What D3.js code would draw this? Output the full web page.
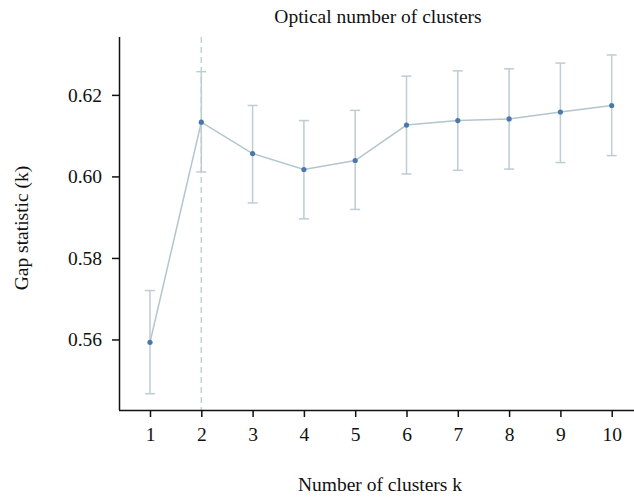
<!DOCTYPE html>
<html>
<head>
<meta charset="utf-8">
<script src="https://cdn.jsdelivr.net/npm/d3@7"></script>
<style>
  html, body { margin: 0; padding: 0; background: #fff; }
  svg { display: block; }
  text { font-family: "Liberation Serif", "DejaVu Serif", serif; fill: #111; }
</style>
</head>
<body>
<svg id="chart" width="634" height="500"></svg>
<script>
// Gap statistic per number of clusters k, with its error bounds
const clusters = [1, 2, 3, 4, 5, 6, 7, 8, 9, 10];
const gap      = [0.5593, 0.6133, 0.6056, 0.6017, 0.6039, 0.6126, 0.6137, 0.6141, 0.6158, 0.6174];
const gapLow   = [0.5467, 0.6011, 0.5935, 0.5896, 0.5919, 0.6006, 0.6015, 0.6018, 0.6034, 0.6051];
const gapHigh  = [0.5720, 0.6257, 0.6174, 0.6137, 0.6162, 0.6246, 0.6259, 0.6264, 0.6278, 0.6298];
const yTicks   = [0.56, 0.58, 0.60, 0.62];
const optimalK = 2;

const svg = d3.select("#chart");
const plotLeft = 119, plotRight = 635, plotTop = 37, plotBottom = 410;
const fontSize = 19.5;

const x = d3.scalePoint().domain(clusters).range([150, 611.7]);
const y = d3.scaleLinear().domain([0.5427, 0.6342]).range([plotBottom, plotTop]);

// optimal k marker
svg.append("line")
  .attr("x1", x(optimalK)).attr("x2", x(optimalK))
  .attr("y1", plotTop).attr("y2", plotBottom)
  .attr("stroke", "#c3d0d5").attr("stroke-width", 1.5)
  .attr("stroke-dasharray", "6,4");

// error bars
const rows = clusters.map((k, i) => ({ k, v: gap[i], lo: gapLow[i], hi: gapHigh[i] }));
const eb = svg.append("g").attr("stroke", "#bccdd3").attr("stroke-width", 1.5);
rows.forEach(d => {
  eb.append("line").attr("x1", x(d.k)).attr("x2", x(d.k)).attr("y1", y(d.lo)).attr("y2", y(d.hi));
  eb.append("line").attr("x1", x(d.k) - 5).attr("x2", x(d.k) + 5).attr("y1", y(d.lo)).attr("y2", y(d.lo));
  eb.append("line").attr("x1", x(d.k) - 5).attr("x2", x(d.k) + 5).attr("y1", y(d.hi)).attr("y2", y(d.hi));
});

// connecting line
svg.append("path")
  .datum(rows)
  .attr("fill", "none")
  .attr("stroke", "#b2c6cd")
  .attr("stroke-width", 1.5)
  .attr("d", d3.line().x(d => x(d.k)).y(d => y(d.v)));

// points
svg.append("g").selectAll("circle").data(rows).join("circle")
  .attr("cx", d => x(d.k)).attr("cy", d => y(d.v)).attr("r", 2.6)
  .attr("fill", "#4a78ad");

// axes
const xAxis = svg.append("g")
  .attr("transform", `translate(0,${plotBottom})`)
  .call(d3.axisBottom(x).tickSize(7).tickPadding(10));
xAxis.select(".domain").attr("d", `M${plotLeft},0.5H${plotRight}`);

const yAxis = svg.append("g")
  .attr("transform", `translate(${plotLeft},0)`)
  .call(d3.axisLeft(y).tickValues(yTicks).tickFormat(d3.format(".2f")).tickSize(7).tickPadding(10));
yAxis.select(".domain").attr("d", `M0.5,${plotTop}V${plotBottom}`);

[xAxis, yAxis].forEach(a => {
  a.selectAll(".domain, .tick line").attr("stroke", "#111").attr("stroke-width", 1.5);
  a.selectAll(".tick text").attr("font-size", fontSize).attr("font-family", "Liberation Serif, serif").attr("fill", "#111");
});

// titles
svg.append("text").attr("x", 378).attr("y", 23).attr("text-anchor", "middle")
  .attr("font-size", fontSize).text("Optical number of clusters");
svg.append("text").attr("x", 380).attr("y", 491).attr("text-anchor", "middle")
  .attr("font-size", fontSize).text("Number of clusters k");
svg.append("text").attr("transform", "translate(28,228) rotate(-90)").attr("text-anchor", "middle")
  .attr("font-size", fontSize).text("Gap statistic (k)");
</script>
</body>
</html>
